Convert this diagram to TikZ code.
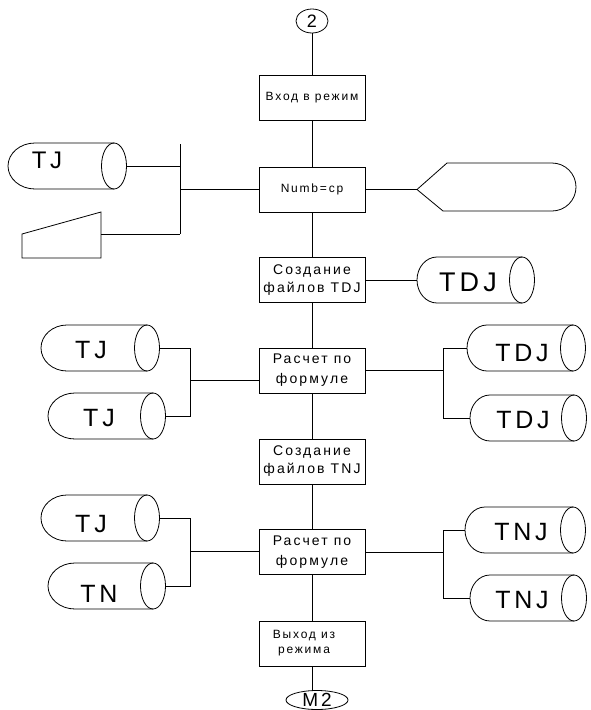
\documentclass[tikz,border=0pt]{standalone}
\usepackage{fontspec}
\setmainfont{Liberation Sans}[LetterSpace=15]
\usetikzlibrary{shapes.geometric}

% Horizontal storage drum: #1 name, #2 left x, #3 top y, #4 x of the end ellipse,
% #5 radius of the rounded back, #6 label, #7/#8 label position, #9 font size
\newcommand\drum[9]{%
  \draw ({#4},{#3}) -- ({#2+#5},{#3})
        arc[start angle=90,end angle=270,x radius=#5pt,y radius=23pt]
        -- ({#4},{#3+46});
  \draw ({#4},{#3+23}) ellipse[x radius=12.5pt,y radius=23pt];
  \coordinate (#1-w) at ({#2},{#3+23});
  \coordinate (#1-e) at ({#4+12.5},{#3+23});
  \node[font=\fontsize{#9}{#9}\selectfont] (#1) at (#7,#8) {#6};
}

\begin{document}
\begin{tikzpicture}[x=1pt,y=-1pt,line width=0.8pt,
  block/.style={draw,rectangle,minimum width=106pt,minimum height=45pt,
    inner sep=0pt,align=center},
  small/.style={font=\fontsize{12}{15}\selectfont},
  big/.style={font=\fontsize{14}{18}\selectfont},
  term/.style={draw,ellipse,inner sep=0pt}]
\useasboundingbox[fill=white] (0,0) rectangle (590,710);

% connectors on the main flow
\node[term,minimum width=32pt,minimum height=24pt,font=\fontsize{18}{18}\selectfont] (c2) at (312,21) {2};
\node[block,small] (b1) at (312,98) {Вход в режим};
\node[block,small] (b2) at (312,189.5) {Numb=cp};
\node[block,big] (b3) at (312,280) {Создание\\файлов TDJ};
\node[block,font=\fontsize{14}{20}\selectfont] (b4) at (312,370.5) {Расчет по\\формуле};
\node[block,big] (b5) at (312,461.5) {Создание\\файлов TNJ};
\node[block,font=\fontsize{14}{20}\selectfont] (b6) at (312,552) {Расчет по\\формуле};
\node[block,small] (b7) at (312,643.5) {Выход из\hspace*{16pt}\\режима\hspace*{16pt}};
\node[term,minimum width=62pt,minimum height=19pt,font=\fontsize{19}{19}\selectfont] (m2) at (317,700) {M2};

% data stores
\drum{tja}{8}{143}{114}{27}{TJ}{47}{160}{24}
\drum{tdja}{417}{257}{522}{20}{TDJ}{468}{282}{27}
\drum{tjb}{41}{325}{147}{26}{TJ}{91}{350}{25}
\drum{tjc}{48}{393}{153}{27}{TJ}{99}{418}{25}
\drum{tdjb}{467}{325}{573}{20}{TDJ}{522}{353}{25}
\drum{tdjc}{470}{395}{574}{20}{TDJ}{523}{420}{25}
\drum{tjd}{41}{495}{147}{26}{TJ}{91}{524}{25}
\drum{tn}{48}{563}{153}{27}{TN}{99}{594}{25}
\drum{tnja}{465}{507}{573}{20}{TNJ}{521}{532}{25}
\drum{tnjb}{470}{575}{574}{20}{TNJ}{522}{600}{25}

% manual input
\draw (22,234) -- (101,212) -- (101,258) -- (22,258) -- cycle;
\coordinate (man) at (101,234);

% display
\draw (417,189.5) -- (447,163) -- (552,163)
      arc[start angle=90,end angle=-90,radius=24pt] -- (443,211) -- cycle;
\coordinate (disp) at (417,189.5);

% main flow line
\draw (c2) -- (b1);
\draw (b1) -- (b2);
\draw (b2) -- (b3);
\draw (b3) -- (b4);
\draw (b4) -- (b5);
\draw (b5) -- (b6);
\draw (b6) -- (b7);
\draw (b7.south) -- (b7.south |- m2.north);

% inputs of Numb=cp
\coordinate (jat) at (180,144);
\coordinate (jab) at (180,234);
\draw (jat) -- (jab);
\draw (tja-e) -- (tja-e -| jat);
\draw (man) -- (jab);
\draw (b2.west) -- (b2.west -| jat);
\draw (b2.east) -- (disp);

% output of the first creation step
\draw (b3.east) -- (tdja-w);

% first calculation
\coordinate (jb) at (190,380);
\draw (tjb-e) -| (jb);
\draw (tjc-e) -| (jb);
\draw (jb) -- (jb -| b4.west);
\coordinate (jc) at (443,370.5);
\draw (b4.east) -- (jc);
\draw (jc) |- (tdjb-w);
\draw (jc) |- (tdjc-w);

% second calculation
\coordinate (jd) at (190,551);
\draw (tjd-e) -| (jd);
\draw (tn-e) -| (jd);
\draw (jd) -- (jd -| b6.west);
\coordinate (je) at (443,552);
\draw (b6.east) -- (je);
\draw (je) |- (tnja-w);
\draw (je) |- (tnjb-w);
\end{tikzpicture}
\end{document}
